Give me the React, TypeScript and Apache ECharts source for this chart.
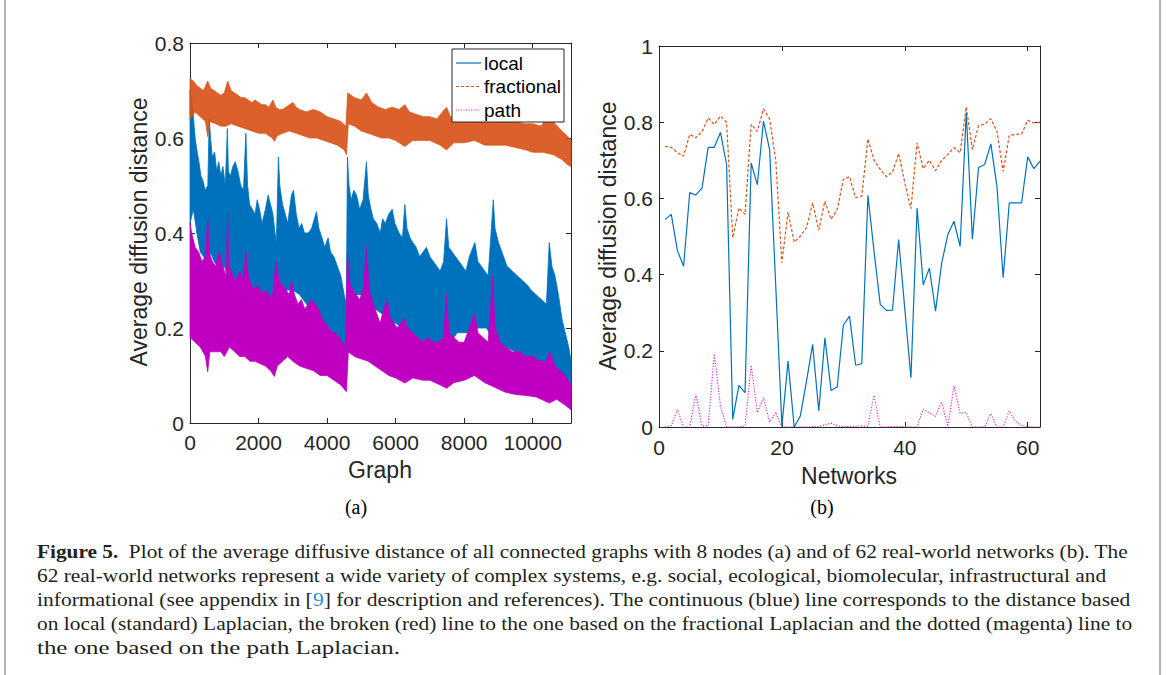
import React, { useEffect, useRef } from "react";
import * as echarts from "echarts";

// ---------- Panel (a): envelopes of the dense series (graph index, value) ----------
const localUpper: number[][] = [
  [0, 0.7], [30, 0.69], [80, 0.66], [150, 0.6], [200, 0.575], [260, 0.55], [320, 0.52], [380, 0.51], [440, 0.49], [520, 0.5],
  [560, 0.64], [600, 0.6], [650, 0.56], [720, 0.57], [780, 0.53], [840, 0.55], [900, 0.52], [960, 0.54], [1030, 0.5], [1090, 0.62],
  [1120, 0.53], [1180, 0.52], [1250, 0.54], [1320, 0.55], [1400, 0.53], [1480, 0.5], [1560, 0.49], [1630, 0.61], [1680, 0.5], [1740, 0.46],
  [1820, 0.45], [1900, 0.44], [1960, 0.47], [2030, 0.45], [2100, 0.42], [2200, 0.45], [2280, 0.48], [2350, 0.46], [2420, 0.44], [2480, 0.4],
  [2520, 0.38], [2580, 0.56], [2620, 0.5], [2700, 0.46], [2780, 0.44], [2850, 0.42], [2960, 0.48], [3020, 0.49], [3100, 0.44], [3180, 0.41],
  [3260, 0.42], [3340, 0.4], [3450, 0.4], [3550, 0.41], [3690, 0.445], [3760, 0.41], [3850, 0.39], [3930, 0.37], [4030, 0.39], [4100, 0.36],
  [4200, 0.35], [4300, 0.33], [4400, 0.31], [4500, 0.27], [4560, 0.25], [4594, 0.56], [4640, 0.5], [4700, 0.47], [4780, 0.49], [4860, 0.48],
  [4950, 0.45], [5050, 0.47], [5149, 0.55], [5200, 0.48], [5280, 0.45], [5350, 0.43], [5450, 0.42], [5550, 0.4], [5620, 0.43], [5700, 0.42],
  [5800, 0.44], [5900, 0.45], [5980, 0.42], [6100, 0.4], [6200, 0.39], [6269, 0.46], [6330, 0.41], [6420, 0.39], [6500, 0.38], [6600, 0.37],
  [6700, 0.35], [6800, 0.36], [6900, 0.37], [7000, 0.35], [7100, 0.34], [7200, 0.33], [7300, 0.32], [7400, 0.34], [7485, 0.43], [7550, 0.37],
  [7650, 0.36], [7750, 0.35], [7850, 0.34], [7950, 0.33], [8050, 0.32], [8150, 0.35], [8312, 0.38], [8400, 0.34], [8500, 0.33], [8600, 0.32],
  [8700, 0.31], [8850, 0.47], [8900, 0.41], [9000, 0.38], [9100, 0.36], [9250, 0.33], [9400, 0.32], [9550, 0.31], [9700, 0.3], [9850, 0.29],
  [9950, 0.28], [10100, 0.27], [10250, 0.26], [10400, 0.25], [10482, 0.38], [10560, 0.33], [10650, 0.31], [10750, 0.27], [10850, 0.22], [10950, 0.19],
  [11050, 0.16], [11117, 0.13],
];
const localLower: number[][] = [
  [0, 0.42], [100, 0.45], [200, 0.4], [300, 0.36], [400, 0.35], [500, 0.33], [600, 0.36], [700, 0.34], [800, 0.33], [900, 0.32],
  [1000, 0.33], [1100, 0.31], [1200, 0.3], [1300, 0.3], [1400, 0.29], [1500, 0.29], [1600, 0.28], [1700, 0.27], [1800, 0.27], [1900, 0.28],
  [2000, 0.27], [2100, 0.25], [2200, 0.24], [2300, 0.22], [2400, 0.2], [2460, 0.19], [2550, 0.22], [2700, 0.27], [2850, 0.28], [3000, 0.28],
  [3200, 0.27], [3400, 0.25], [3600, 0.23], [3800, 0.21], [4000, 0.2], [4200, 0.18], [4400, 0.15], [4520, 0.11], [4580, 0.12], [4650, 0.24],
  [4800, 0.27], [5000, 0.27], [5200, 0.26], [5400, 0.24], [5600, 0.23], [5800, 0.21], [6000, 0.21], [6200, 0.2], [6500, 0.19], [6800, 0.17],
  [7000, 0.16], [7300, 0.15], [7500, 0.14], [7600, 0.17], [7800, 0.19], [8000, 0.19], [8200, 0.19], [8400, 0.2], [8650, 0.2], [8900, 0.17],
  [9200, 0.16], [9500, 0.15], [9800, 0.13], [10100, 0.115], [10400, 0.1], [10600, 0.09], [10800, 0.08], [11000, 0.07], [11117, 0.055],
];
const fractionalUpper: number[][] = [
  [0, 0.725], [100, 0.72], [200, 0.71], [300, 0.705], [400, 0.7], [516, 0.72], [600, 0.705], [700, 0.7], [800, 0.695], [900, 0.69],
  [1000, 0.695], [1100, 0.72], [1200, 0.7], [1300, 0.695], [1400, 0.69], [1500, 0.685], [1600, 0.685], [1700, 0.68], [1800, 0.675], [1900, 0.68],
  [2000, 0.675], [2100, 0.67], [2200, 0.67], [2300, 0.665], [2420, 0.68], [2500, 0.665], [2600, 0.66], [2700, 0.66], [2800, 0.665], [2900, 0.67],
  [3000, 0.675], [3100, 0.665], [3200, 0.66], [3400, 0.655], [3600, 0.66], [3800, 0.655], [4000, 0.645], [4200, 0.64], [4400, 0.635], [4550, 0.625],
  [4600, 0.695], [4700, 0.69], [4800, 0.685], [5000, 0.68], [5150, 0.695], [5300, 0.675], [5500, 0.665], [5700, 0.66], [5900, 0.665], [6100, 0.66],
  [6270, 0.67], [6400, 0.655], [6600, 0.65], [6800, 0.645], [7000, 0.645], [7200, 0.64], [7485, 0.665], [7600, 0.645], [7800, 0.64], [8000, 0.64],
  [8200, 0.645], [8400, 0.64], [8650, 0.65], [8850, 0.645], [9000, 0.64], [9250, 0.64], [9500, 0.635], [9750, 0.63], [10000, 0.63], [10250, 0.625],
  [10500, 0.655], [10650, 0.63], [10850, 0.615], [11000, 0.605], [11117, 0.595],
];
const fractionalLower: number[][] = [
  [0, 0.64], [150, 0.655], [300, 0.645], [450, 0.635], [516, 0.603], [580, 0.635], [750, 0.63], [900, 0.625], [1050, 0.625], [1200, 0.63],
  [1400, 0.625], [1600, 0.62], [1800, 0.615], [2000, 0.61], [2200, 0.61], [2400, 0.6], [2460, 0.593], [2550, 0.605], [2700, 0.61], [2900, 0.615],
  [3100, 0.61], [3300, 0.605], [3500, 0.6], [3700, 0.6], [3900, 0.595], [4100, 0.59], [4300, 0.585], [4500, 0.575], [4565, 0.565], [4620, 0.63],
  [4800, 0.625], [5000, 0.615], [5200, 0.61], [5400, 0.605], [5600, 0.6], [5800, 0.6], [6000, 0.595], [6269, 0.582], [6500, 0.595], [6800, 0.595],
  [7000, 0.595], [7300, 0.585], [7485, 0.575], [7700, 0.59], [8000, 0.59], [8300, 0.595], [8600, 0.585], [8900, 0.585], [9200, 0.585], [9500, 0.58],
  [9800, 0.575], [10000, 0.57], [10300, 0.57], [10600, 0.565], [10850, 0.555], [11000, 0.545], [11117, 0.54],
];
const pathUpper: number[][] = [
  [0, 0.42], [50, 0.4], [150, 0.37], [250, 0.36], [350, 0.34], [450, 0.35], [516, 0.43], [560, 0.36], [650, 0.34], [750, 0.33],
  [850, 0.36], [950, 0.33], [1060, 0.31], [1100, 0.44], [1140, 0.33], [1250, 0.31], [1350, 0.3], [1450, 0.32], [1530, 0.3], [1636, 0.36],
  [1700, 0.31], [1800, 0.29], [1900, 0.28], [2000, 0.29], [2100, 0.27], [2200, 0.28], [2300, 0.27], [2400, 0.26], [2510, 0.34], [2600, 0.3],
  [2700, 0.29], [2800, 0.28], [2900, 0.27], [2960, 0.3], [3050, 0.27], [3150, 0.25], [3250, 0.26], [3350, 0.24], [3450, 0.25], [3550, 0.26],
  [3650, 0.25], [3750, 0.24], [3850, 0.22], [3950, 0.21], [4050, 0.2], [4150, 0.19], [4250, 0.19], [4350, 0.18], [4450, 0.17], [4540, 0.16],
  [4594, 0.36], [4650, 0.3], [4750, 0.28], [4850, 0.27], [4950, 0.26], [5050, 0.28], [5149, 0.37], [5230, 0.28], [5350, 0.25], [5450, 0.23],
  [5550, 0.21], [5650, 0.24], [5750, 0.26], [5850, 0.22], [5950, 0.21], [6050, 0.2], [6150, 0.21], [6250, 0.22], [6350, 0.2], [6500, 0.19],
  [6650, 0.18], [6800, 0.17], [6950, 0.18], [7100, 0.17], [7250, 0.17], [7400, 0.18], [7485, 0.27], [7560, 0.19], [7700, 0.18], [7850, 0.17],
  [8000, 0.17], [8150, 0.2], [8300, 0.23], [8400, 0.19], [8550, 0.18], [8700, 0.17], [8827, 0.31], [8900, 0.2], [9050, 0.17], [9200, 0.16],
  [9400, 0.15], [9600, 0.15], [9800, 0.14], [10000, 0.14], [10200, 0.13], [10400, 0.13], [10500, 0.15], [10650, 0.12], [10800, 0.11], [10950, 0.1],
  [11117, 0.08],
];
const pathLower: number[][] = [
  [0, 0.18], [150, 0.17], [300, 0.16], [450, 0.14], [516, 0.108], [580, 0.15], [750, 0.15], [900, 0.15], [1000, 0.14], [1150, 0.16],
  [1300, 0.15], [1450, 0.14], [1600, 0.14], [1750, 0.13], [1900, 0.13], [2050, 0.125], [2200, 0.12], [2350, 0.11], [2460, 0.098], [2550, 0.12],
  [2700, 0.13], [2850, 0.14], [3000, 0.13], [3200, 0.12], [3400, 0.115], [3600, 0.11], [3800, 0.1], [4000, 0.1], [4200, 0.09], [4400, 0.08],
  [4565, 0.066], [4620, 0.15], [4800, 0.14], [5000, 0.135], [5200, 0.13], [5400, 0.12], [5600, 0.11], [5800, 0.1], [6000, 0.095], [6269, 0.084],
  [6500, 0.095], [6800, 0.09], [7000, 0.09], [7300, 0.08], [7485, 0.073], [7700, 0.085], [8000, 0.09], [8300, 0.1], [8600, 0.085], [8900, 0.075],
  [9200, 0.065], [9500, 0.06], [9800, 0.058], [10100, 0.055], [10482, 0.042], [10700, 0.05], [10900, 0.04], [11117, 0.028],
];

// ---------- Panel (b): 62 real-world networks ----------
const networks: number[] = Array.from({ length: 62 }, (_, i) => i + 1);
const localNet: number[] = [
  0.545, 0.558, 0.463, 0.422, 0.615, 0.609, 0.627, 0.734, 0.734, 0.773,
  0.689, 0.02, 0.109, 0.09, 0.693, 0.636, 0.803, 0.728, 0.37, 0.003,
  0.173, 0.0, 0.029, 0.12, 0.217, 0.042, 0.234, 0.096, 0.105, 0.267,
  0.291, 0.162, 0.166, 0.608, 0.46, 0.322, 0.306, 0.307, 0.492, 0.31,
  0.129, 0.575, 0.373, 0.417, 0.304, 0.43, 0.505, 0.54, 0.474, 0.826,
  0.493, 0.681, 0.689, 0.743, 0.631, 0.392, 0.588, 0.588, 0.588, 0.709,
  0.678, 0.698,
];
const fractionalNet: number[] = [
  0.737, 0.734, 0.72, 0.711, 0.768, 0.759, 0.775, 0.811, 0.794, 0.816,
  0.8, 0.497, 0.575, 0.558, 0.794, 0.776, 0.835, 0.809, 0.7, 0.431,
  0.564, 0.485, 0.501, 0.523, 0.588, 0.517, 0.593, 0.545, 0.571, 0.65,
  0.657, 0.602, 0.606, 0.756, 0.7, 0.676, 0.657, 0.669, 0.718, 0.641,
  0.573, 0.746, 0.678, 0.7, 0.673, 0.7, 0.715, 0.733, 0.72, 0.84,
  0.728, 0.791, 0.795, 0.809, 0.776, 0.671, 0.765, 0.768, 0.769, 0.805,
  0.798, 0.8,
];
const pathNet: number[] = [
  0, 0.003, 0.046, 0, 0, 0.086, 0.003, 0.003, 0.192, 0.055,
  0, 0, 0, 0.003, 0.162, 0.038, 0.077, 0.013, 0.039, 0,
  0, 0, 0, 0, 0.001, 0.001, 0.006, 0.01, 0.003, 0.001,
  0.001, 0.002, 0.003, 0.002, 0.083, 0, 0, 0.001, 0.002, 0.001,
  0, 0, 0.047, 0.037, 0.028, 0.066, 0.002, 0.108, 0.036, 0.038,
  0, 0, 0, 0.035, 0, 0, 0.042, 0.015, 0.004, 0.001,
  0, 0,
];

const seriesNames = ["local", "fractional", "path"];
const captionLines = [
  "{b|Figure 5.}  Plot of the average diffusive distance of all connected graphs with 8 nodes (a) and of 62 real-world networks (b). The",
  "62 real-world networks represent a wide variety of complex systems, e.g. social, ecological, biomolecular, infrastructural and",
  "informational (see appendix in [{c|9}] for description and references). The continuous (blue) line corresponds to the distance based",
  "on local (standard) Laplacian, the broken (red) line to the one based on the fractional Laplacian and the dotted (magenta) line to",
  "the one based on the path Laplacian.",
];
const captionLineEnds = [1129, 1107, 1131, 1133, 400];

const BLUE = "#0072bd";
const ORANGE = "#d95319";
const MAGENTA = "#c000c0";
const AX = "#262626";
const SANS = "Liberation Sans, Arial, Helvetica, sans-serif";
const SERIF = "Liberation Serif, Times New Roman, serif";
const CAP_SIZE = 19;
const CAP_X = 37;

function measureCaption(line: string): number {
  const ctx = document.createElement("canvas").getContext("2d");
  if (!ctx) return 1;
  let w = 0;
  const re = /\{(b|c)\|([^}]*)\}/g;
  let last = 0;
  let m: RegExpExecArray | null;
  const reg = `${CAP_SIZE}px ${SERIF}`;
  const bold = `bold ${CAP_SIZE}px ${SERIF}`;
  while ((m = re.exec(line))) {
    ctx.font = reg;
    w += ctx.measureText(line.slice(last, m.index)).width;
    ctx.font = m[1] === "b" ? bold : reg;
    w += ctx.measureText(m[2]).width;
    last = m.index + m[0].length;
  }
  ctx.font = reg;
  w += ctx.measureText(line.slice(last)).width;
  return w;
}

function band(upper: number[][], lower: number[][], color: string, xi: number, yi: number, opacity = 1) {
  return {
    type: "custom",
    coordinateSystem: "cartesian2d",
    xAxisIndex: xi,
    yAxisIndex: yi,
    data: [[0, 0]],
    silent: true,
    renderItem: (params: any, api: any) => {
      if (params.dataIndex !== 0) return null;
      const pts: number[][] = [];
      upper.forEach((p) => pts.push(api.coord(p)));
      for (let i = lower.length - 1; i >= 0; i--) pts.push(api.coord(lower[i]));
      return {
        type: "polygon",
        shape: { points: pts },
        style: { fill: color, stroke: color, lineWidth: 0.8, opacity },
      };
    },
  };
}

function axisBase(show: boolean) {
  return {
    axisLine: { show: true, onZero: false, lineStyle: { color: AX, width: 1 } },
    axisTick: { show: true, inside: true, length: 5, lineStyle: { color: AX, width: 1 } },
    axisLabel: {
      show,
      color: AX,
      fontSize: 21,
      fontFamily: SANS,
      showMaxLabel: false,
      formatter: (v: number) => String(Math.round(v * 1000) / 1000),
    },
    splitLine: { show: false },
  };
}

export default function App() {
  const ref = useRef<HTMLDivElement>(null);
  useEffect(() => {
    document.body.style.margin = "0";
    const chart = echarts.init(ref.current!, null, { renderer: "svg" });
    const xa = (grid: number, pos: string, show: boolean, max: number, interval: number, margin: number) => ({
      type: "value",
      gridIndex: grid,
      position: pos,
      min: 0,
      max,
      interval,
      ...axisBase(show),
      axisLabel: { ...axisBase(show).axisLabel, margin },
    });
    const ya = (grid: number, pos: string, show: boolean, max: number) => ({
      type: "value",
      gridIndex: grid,
      position: pos,
      min: 0,
      max,
      interval: 0.2,
      ...axisBase(show),
      axisLabel: { ...axisBase(show).axisLabel, margin: 6, showMaxLabel: true },
    });

    const legendX = 452, legendY = 49;
    const legendItems = seriesNames.map((name, i) => {
      const y = legendY + 14 + i * 23.5;
      const color = [BLUE, ORANGE, "#dd22dd"][i];
      const dash = [null, [3, 2], [1, 1.5]][i];
      return [
        {
          type: "line",
          shape: { x1: legendX + 4, y1: y, x2: legendX + 29, y2: y },
          style: { stroke: color, lineWidth: 1.2, lineDash: dash },
        },
        {
          type: "text",
          x: legendX + 32,
          y,
          style: { text: name, fontSize: 19, fontFamily: SANS, fill: "#000", align: "left", verticalAlign: "middle" },
        },
      ];
    }).flat();

    const option: any = {
      animation: false,
      backgroundColor: "#fff",
      grid: [
        { left: 190, top: 43, width: 381, height: 380, show: false },
        { left: 659, top: 46, width: 381, height: 381, show: false },
      ],
      xAxis: [
        xa(0, "bottom", true, 11117, 2000, 9),
        xa(0, "top", false, 11117, 2000, 9),
        xa(1, "bottom", true, 62, 20, 10),
        xa(1, "top", false, 62, 20, 10),
      ],
      yAxis: [
        ya(0, "left", true, 0.8),
        ya(0, "right", false, 0.8),
        ya(1, "left", true, 1),
        ya(1, "right", false, 1),
      ],
      series: [
        band(localUpper, localLower, BLUE, 0, 0),
        band(fractionalUpper, fractionalLower, ORANGE, 0, 0, 0.92),
        band(pathUpper, pathLower, MAGENTA, 0, 0),
        {
          name: seriesNames[0],
          type: "line",
          xAxisIndex: 2,
          yAxisIndex: 2,
          data: networks.map((n, i) => [n, localNet[i]]),
          showSymbol: false,
          lineStyle: { color: BLUE, width: 1.2 },
        },
        {
          name: seriesNames[1],
          type: "line",
          xAxisIndex: 2,
          yAxisIndex: 2,
          data: networks.map((n, i) => [n, fractionalNet[i]]),
          showSymbol: false,
          lineStyle: { color: ORANGE, width: 1.2, type: [3, 2] },
        },
        {
          name: seriesNames[2],
          type: "line",
          xAxisIndex: 2,
          yAxisIndex: 2,
          data: networks.map((n, i) => [n, pathNet[i]]),
          showSymbol: false,
          lineStyle: { color: "#d81ed8", width: 1.1, type: [1.2, 1.6] },
        },
      ],
      graphic: [
        { type: "line", shape: { x1: 5, y1: 0, x2: 5, y2: 675 }, style: { stroke: "#9a9a9a", lineWidth: 1.5 } },
        { type: "line", shape: { x1: 1160, y1: 0, x2: 1160, y2: 675 }, style: { stroke: "#9a9a9a", lineWidth: 1.5 } },
        // axis names
        {
          type: "text", x: 139, y: 232, rotation: Math.PI / 2,
          style: { text: "Average diffusion distance", fontSize: 23, fontFamily: SANS, fill: AX, align: "center", verticalAlign: "middle" },
        },
        {
          type: "text", x: 608, y: 236, rotation: Math.PI / 2,
          style: { text: "Average diffusion distance", fontSize: 23, fontFamily: SANS, fill: AX, align: "center", verticalAlign: "middle" },
        },
        {
          type: "text", x: 380, y: 470,
          style: { text: "Graph", fontSize: 23, fontFamily: SANS, fill: AX, align: "center", verticalAlign: "middle" },
        },
        {
          type: "text", x: 849, y: 476,
          style: { text: "Networks", fontSize: 23, fontFamily: SANS, fill: AX, align: "center", verticalAlign: "middle" },
        },
        // panel labels
        {
          type: "text", x: 356, y: 507,
          style: { text: "(a)", fontSize: 20, fontFamily: SERIF, fill: "#000", align: "center", verticalAlign: "middle" },
        },
        {
          type: "text", x: 822, y: 507,
          style: { text: "(b)", fontSize: 20, fontFamily: SERIF, fill: "#000", align: "center", verticalAlign: "middle" },
        },
        // legend box
        {
          type: "rect", shape: { x: legendX, y: legendY, width: 112, height: 73 },
          style: { fill: "#fff", stroke: AX, lineWidth: 1 }, z: 100,
        },
        ...legendItems.map((it: any) => ({ ...it, z: 101 })),
        // caption
        ...captionLines.map((t, i) => {
          const w = measureCaption(t);
          const sx = w > 0 ? (captionLineEnds[i] - CAP_X) / w : 1;
          return {
            type: "text",
            x: CAP_X,
            y: 551 + i * 24.2,
            scaleX: sx,
            style: {
              text: t,
              fontSize: CAP_SIZE,
              fontFamily: SERIF,
              fill: "#231f20",
              align: "left",
              verticalAlign: "middle",
              rich: {
                b: { fontWeight: "bold", fontSize: CAP_SIZE, fontFamily: SERIF, fill: "#231f20", color: "#231f20" },
                c: { fontSize: CAP_SIZE, fontFamily: SERIF, fill: "#2a8fd4", color: "#2a8fd4" },
              },
            },
          };
        }),
      ],
    };
    chart.setOption(option);
    return () => chart.dispose();
  }, []);
  return <div ref={ref} style={{ width: 1167, height: 675 }} />;
}
